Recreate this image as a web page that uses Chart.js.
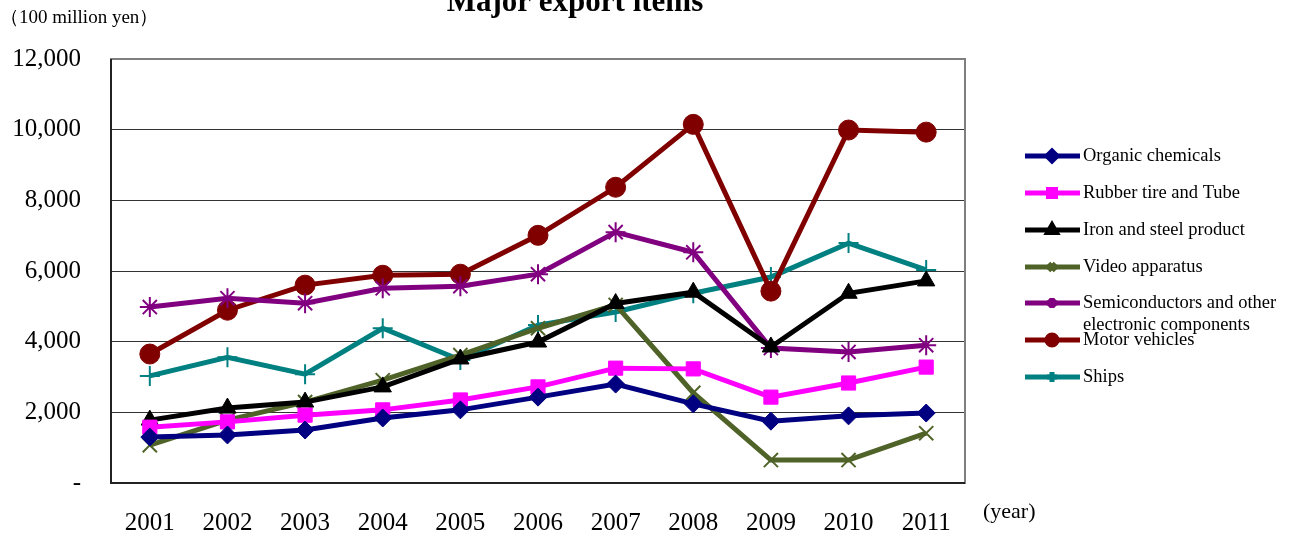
<!DOCTYPE html>
<html>
<head>
<meta charset="utf-8">
<script src="https://cdn.jsdelivr.net/npm/chart.js@4.4.0/dist/chart.umd.min.js"></script>
<style>
  html, body { margin: 0; padding: 0; background: #fff; }
  #wrap { width: 1289px; height: 536px; position: relative; }
</style>
</head>
<body>
<div id="wrap"><canvas id="chart"></canvas></div>
<script>
/* ── DATA ── */
const years = ['2001','2002','2003','2004','2005','2006','2007','2008','2009','2010','2011'];

const organicChemicals = [1300, 1360, 1500, 1840, 2070, 2430, 2800, 2240, 1750, 1900, 1980];
const rubberTire       = [1580, 1730, 1920, 2070, 2350, 2720, 3250, 3230, 2430, 2830, 3280];
const ironSteel        = [1780, 2120, 2290, 2720, 3510, 3990, 5080, 5400, 3850, 5370, 5720];
const videoApparatus   = [1070, 1780, 2290, 2910, 3620, 4380, 5040, 2550,  650,  650, 1410];
const semiconductors   = [4980, 5230, 5090, 5510, 5570, 5910, 7100, 6530, 3820, 3710, 3900];
const motorVehicles    = [3650, 4890, 5600, 5880, 5910, 7010, 8370, 10150, 5430, 9990, 9930];
const ships            = [3030, 3560, 3080, 4380, 3480, 4470, 4840, 5370, 5830, 6790, 6030];

const yTicks = [0, 2000, 4000, 6000, 8000, 10000, 12000];

const SERIF = '"Liberation Serif", "DejaVu Serif", serif';

function series(label, data, color, style, radius) {
  return {
    label, data,
    borderColor: color,
    backgroundColor: color,
    pointBackgroundColor: color,
    pointBorderColor: color,
    pointStyle: style,
    pointRadius: radius,
    pointBorderWidth: (style === 'crossRot' || style === 'star' || style === 'cross') ? 2 : 1,
    borderWidth: 5,
    tension: 0,
    fill: false
  };
}

const datasets = [
  series('Organic chemicals', organicChemicals, '#000080', 'rectRot', 9),
  series('Rubber tire and Tube', rubberTire, '#FF00FF', 'rect', 10),
  series('Iron and steel product', ironSteel, '#000000', 'triangle', 10),
  series('Video apparatus', videoApparatus, '#4F6228', 'crossRot', 10),
  series('Semiconductors and other|electronic components', semiconductors, '#800080', 'star', 10),
  series('Motor vehicles', motorVehicles, '#800000', 'circle', 10),
  series('Ships', ships, '#008080', 'cross', 10)
];

/* ── title, unit labels, legend ── */
const extrasPlugin = {
  id: 'extras',
  afterDraw(chart) {
    const { ctx, chartArea } = chart;
    ctx.save();
    ctx.fillStyle = '#000';

    // title (clipped at top like the source)
    ctx.font = 'bold 31px ' + SERIF;
    ctx.textAlign = 'center';
    ctx.textBaseline = 'alphabetic';
    ctx.fillText('Major export items', 575, 11);

    // unit
    ctx.font = '19px ' + SERIF;
    ctx.textAlign = 'left';
    ctx.textBaseline = 'middle';
    ctx.fillText('（100 million yen）', 0, 18);

    // year
    ctx.font = '22px ' + SERIF;
    ctx.fillText('(year)', 983, 512);

    // legend
    const rows = [156, 193, 230, 267, 303, 340, 377];
    chart.data.datasets.forEach((ds, i) => {
      const y = rows[i];
      ctx.strokeStyle = ds.borderColor;
      ctx.fillStyle = ds.borderColor;
      ctx.lineWidth = 5;
      ctx.beginPath();
      ctx.moveTo(1025, y);
      ctx.lineTo(1080, y);
      ctx.stroke();
      Chart.helpers.drawPoint(ctx, {
        pointStyle: ds.pointStyle,
        radius: 5,
        borderWidth: ds.pointBorderWidth
      }, 1052, y);
      ctx.fillStyle = '#000';
      ctx.font = '18.5px ' + SERIF;
      ctx.textAlign = 'left';
      ctx.textBaseline = 'middle';
      const parts = ds.label.split('|');
      parts.forEach((p, k) => ctx.fillText(p, 1083, y + k * 22));
    });

    // plot border
    ctx.strokeStyle = '#7f7f7f';
    ctx.lineWidth = 2;
    ctx.strokeRect(chartArea.left, chartArea.top, chartArea.right - chartArea.left, chartArea.bottom - chartArea.top);
    ctx.strokeStyle = '#222';
    ctx.beginPath();
    ctx.moveTo(chartArea.left, chartArea.top);
    ctx.lineTo(chartArea.left, chartArea.bottom);
    ctx.lineTo(chartArea.right, chartArea.bottom);
    ctx.stroke();
    ctx.restore();
  }
};

new Chart(document.getElementById('chart').getContext('2d'), {
  type: 'line',
  plugins: [extrasPlugin],
  data: {
    labels: years,
    datasets: datasets
  },
  options: {
    responsive: true,
    maintainAspectRatio: false,
    animation: false,
    layout: { padding: { top: 59, right: 324, left: 0, bottom: 0 } },
    plugins: {
      legend: { display: false },
      tooltip: { enabled: false }
    },
    scales: {
      x: {
        offset: true,
        grid: { display: false, drawTicks: false },
        border: { display: false },
        ticks: { color: '#000', font: { size: 25, family: SERIF }, padding: 25, maxRotation: 0 },
        afterFit(scale) { scale.height = 53; }
      },
      y: {
        min: 0, max: 12000,
        afterBuildTicks(scale) { scale.ticks = yTicks.map(v => ({ value: v })); },
        grid: { color: '#333', lineWidth: 1, drawTicks: false },
        border: { display: false },
        ticks: {
          color: '#000',
          font: { size: 25, family: SERIF },
          padding: 30,
          callback: v => v === 0 ? '-' : v.toLocaleString('en-US')
        },
        afterFit(scale) { scale.width = 111; }
      }
    }
  }
});
</script>
</body>
</html>
